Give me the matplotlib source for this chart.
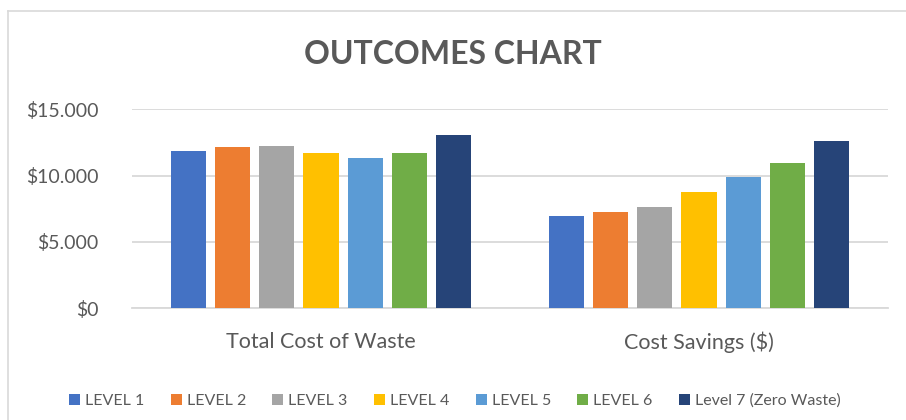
import numpy as np
import matplotlib.pyplot as plt
from matplotlib.patches import Patch
from matplotlib.lines import Line2D
from matplotlib.ticker import FuncFormatter

categories = ["Total Cost of Waste", "Cost Savings ($)"]
levels = ["LEVEL 1", "LEVEL 2", "LEVEL 3", "LEVEL 4", "LEVEL 5", "LEVEL 6",
          "Level 7 (Zero Waste)"]
# one list per level: [total cost of waste, cost savings]
level_1 = [11840, 6980]
level_2 = [12140, 7290]
level_3 = [12240, 7620]
level_4 = [11740, 8770]
level_5 = [11310, 9880]
level_6 = [11710, 10980]
level_7 = [13070, 12640]
series = [level_1, level_2, level_3, level_4, level_5, level_6, level_7]
colors = ['#4472C4', '#ED7D31', '#A5A5A5', '#FFC000', '#5B9BD5', '#70AD47', '#264478']

plt.rcParams['font.family'] = ['Lato', 'DejaVu Sans']
text_color = '#595959'
grid_color = '#d9d9d9'

fig = plt.figure(figsize=(9.06, 4.2), dpi=100)
ax = fig.add_axes([132 / 906, (420 - 308.3) / 420, (888 - 132) / 906, (308.3 - 109.3) / 420])

x = np.arange(len(categories))
width = 0.0926
pitch = 0.117
for i, (vals, color) in enumerate(zip(series, colors)):
    offset = (i - 3) * pitch
    ax.bar(x + offset, vals, width=width, color=color, zorder=3)

ax.set_xlim(-0.5, 1.5)
ax.set_ylim(0, 15000)
ax.set_yticks([0, 5000, 10000, 15000])
ax.yaxis.set_major_formatter(FuncFormatter(lambda v, p: "${:,.0f}".format(v).replace(",", ".")))
ax.set_xticks(x)
ax.set_xticklabels(categories)
ax.tick_params(axis='both', length=0, labelsize=14, colors=text_color)
ax.tick_params(axis='x', labelsize=15.5, pad=17)
ax.tick_params(axis='y', pad=24)
ax.grid(axis='y', color=grid_color, linewidth=1.3, zorder=0)
for side in ['top', 'right', 'left']:
    ax.spines[side].set_visible(False)
ax.spines['bottom'].set_color(grid_color)
ax.spines['bottom'].set_linewidth(1.3)

fig.text(0.5, 1 - 55 / 420, "OUTCOMES CHART", ha='center', va='center',
         fontsize=23, fontweight='bold', color=text_color)

handles = [Patch(facecolor=c, edgecolor='none') for c in colors]
fig.legend(handles, levels, loc='center', bbox_to_anchor=(0.502, 1 - 401 / 420),
           ncol=7, frameon=False, fontsize=11.5, labelcolor=text_color,
           handlelength=0.7, handleheight=0.7, handletextpad=0.3, columnspacing=1.65)

# chart area border (left and top edges visible in crop)
fig.add_artist(Line2D([8 / 906, 8 / 906], [0, 1 - 11 / 420], transform=fig.transFigure,
                      color=grid_color, linewidth=1.2))
fig.add_artist(Line2D([8 / 906, 1], [1 - 11 / 420, 1 - 11 / 420], transform=fig.transFigure,
                      color=grid_color, linewidth=1.2))

fig.savefig("out.png", dpi=100)
